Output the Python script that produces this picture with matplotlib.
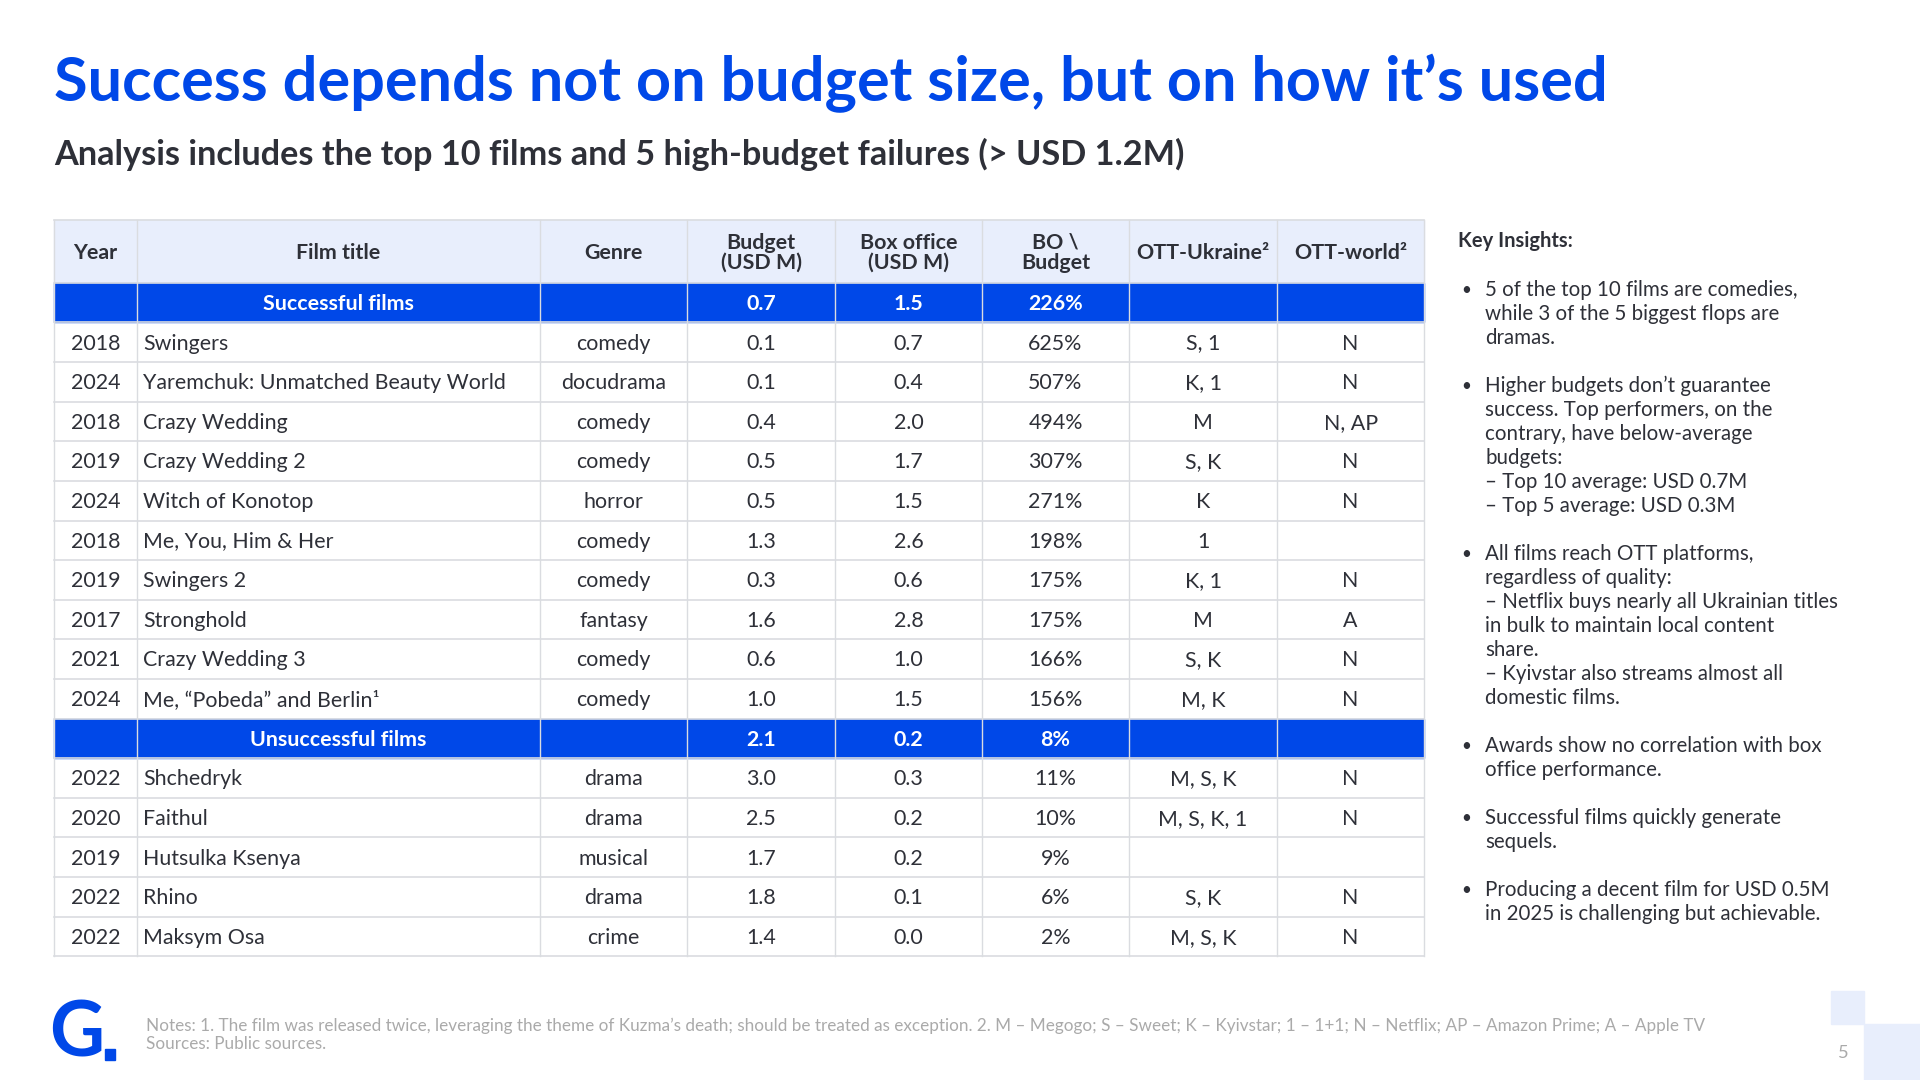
import matplotlib.pyplot as plt
from matplotlib.patches import Rectangle

BLUE = '#0048E8'
DARK = '#2E3038'
HEAD_BG = '#E8EEFC'
GRID = '#DADCE0'
FONT = ['Lato', 'DejaVu Sans']

columns = ['Year', 'Film title', 'Genre', 'Budget\n(USD M)', 'Box office\n(USD M)', 'BO \\\nBudget', 'OTT-Ukraine²', 'OTT-world²']

good_years = ['2018', '2024', '2018', '2019', '2024', '2018', '2019', '2017', '2021', '2024']
good_titles = ['Swingers', 'Yaremchuk: Unmatched Beauty World', 'Crazy Wedding', 'Crazy Wedding 2',
               'Witch of Konotop', 'Me, You, Him & Her', 'Swingers 2', 'Stronghold',
               'Crazy Wedding 3', 'Me, “Pobeda” and Berlin¹']
good_genres = ['comedy', 'docudrama', 'comedy', 'comedy', 'horror', 'comedy', 'comedy', 'fantasy', 'comedy', 'comedy']
good_budget = [0.1, 0.1, 0.4, 0.5, 0.5, 1.3, 0.3, 1.6, 0.6, 1.0]
good_box = [0.7, 0.4, 2.0, 1.7, 1.5, 2.6, 0.6, 2.8, 1.0, 1.5]
good_ratio = [625, 507, 494, 307, 271, 198, 175, 175, 166, 156]
good_ott_ua = ['S, 1', 'K, 1', 'M', 'S, K', 'K', '1', 'K, 1', 'M', 'S, K', 'M, K']
good_ott_world = ['N', 'N', 'N, AP', 'N', 'N', '', 'N', 'A', 'N', 'N']
good_summary = ['Successful films', 0.7, 1.5, 226]

bad_years = ['2022', '2020', '2019', '2022', '2022']
bad_titles = ['Shchedryk', 'Faithul', 'Hutsulka Ksenya', 'Rhino', 'Maksym Osa']
bad_genres = ['drama', 'drama', 'musical', 'drama', 'crime']
bad_budget = [3.0, 2.5, 1.7, 1.8, 1.4]
bad_box = [0.3, 0.2, 0.2, 0.1, 0.0]
bad_ratio = [11, 10, 9, 6, 2]
bad_ott_ua = ['M, S, K', 'M, S, K, 1', '', 'S, K', 'M, S, K']
bad_ott_world = ['N', 'N', '', 'N', 'N']
bad_summary = ['Unsuccessful films', 2.1, 0.2, 8]

insights = [
    ['5 of the top 10 films are comedies,', 'while 3 of the 5 biggest flops are', 'dramas.'],
    ['Higher budgets don’t guarantee', 'success. Top performers, on the', 'contrary, have below-average',
     'budgets:', '– Top 10 average: USD 0.7M', '– Top 5 average: USD 0.3M'],
    ['All films reach OTT platforms,', 'regardless of quality:', '– Netflix buys nearly all Ukrainian titles',
     'in bulk to maintain local content', 'share.', '– Kyivstar also streams almost all', 'domestic films.'],
    ['Awards show no correlation with box', 'office performance.'],
    ['Successful films quickly generate', 'sequels.'],
    ['Producing a decent film for USD 0.5M', 'in 2025 is challenging but achievable.'],
]

fig = plt.figure(figsize=(19.2, 10.8), dpi=100)
ax = fig.add_axes([0, 0, 1, 1])
ax.set_xlim(0, 1568)
ax.set_ylim(882, 0)
ax.axis('off')

S = 0.8816  # ref px -> pt

ax.text(44, 68, 'Success depends not on budget size, but on how it’s used', color=BLUE,
        fontsize=50 * S, fontweight='bold', family=FONT, va='center')
ax.text(44, 126, 'Analysis includes the top 10 films and 5 high-budget failures (> USD 1.2M)', color=DARK,
        fontsize=28 * S, fontweight='bold', family=FONT, va='center')

xs = [44, 112, 441, 561, 682, 802, 922, 1043, 1163]
top, head_h = 180, 51
row_h = (781 - 231) / 17
fs = 17.5 * S

# header
ax.add_patch(Rectangle((xs[0], top), xs[-1] - xs[0], head_h, color=HEAD_BG, zorder=0))
for i, c in enumerate(columns):
    ax.text((xs[i] + xs[i + 1]) / 2, top + head_h / 2 + 1, c, ha='center', va='center', color=DARK,
            fontsize=fs, fontweight='bold', family=FONT, linespacing=1.0)

rows = []
for blk in [(good_summary, good_years, good_titles, good_genres, good_budget, good_box, good_ratio, good_ott_ua, good_ott_world),
            (bad_summary, bad_years, bad_titles, bad_genres, bad_budget, bad_box, bad_ratio, bad_ott_ua, bad_ott_world)]:
    summ = blk[0]
    rows.append(('sum', ['', summ[0], '', f'{summ[1]:.1f}', f'{summ[2]:.1f}', f'{summ[3]}%', '', '']))
    for r in zip(*blk[1:]):
        y, t, g, b, bo, ra, u, w = r
        rows.append(('row', [y, t, g, f'{b:.1f}', f'{bo:.1f}', f'{ra}%', u, w]))

y0 = top + head_h
for k, (kind, vals) in enumerate(rows):
    yt = y0 + k * row_h
    yc = yt + row_h / 2 + 1
    if kind == 'sum':
        ax.add_patch(Rectangle((xs[0], yt), xs[-1] - xs[0], row_h, color=BLUE, zorder=0))
    for i, v in enumerate(vals):
        if kind == 'sum':
            ax.text((xs[i] + xs[i + 1]) / 2, yc, v, ha='center', va='center', color='white',
                    fontsize=fs, fontweight='bold', family=FONT)
        elif i == 1:
            ax.text(xs[1] + 5, yc, v, ha='left', va='center', color=DARK, fontsize=fs, family=FONT)
        else:
            ax.text((xs[i] + xs[i + 1]) / 2, yc, v, ha='center', va='center', color=DARK,
                    fontsize=fs, family=FONT)
    ax.plot([xs[0], xs[-1]], [yt + row_h, yt + row_h], color=GRID, lw=1.2, zorder=1)

bottom = y0 + len(rows) * row_h
for x in xs:
    ax.plot([x, x], [top, bottom], color=GRID, lw=1, zorder=1)
ax.plot([xs[0], xs[-1]], [top, top], color=GRID, lw=1.2)
ax.plot([xs[0], xs[-1]], [y0, y0], color=GRID, lw=1.2)

# insights
ax.text(1191, 197, 'Key Insights:', color=DARK, fontsize=16.5 * S, fontweight='bold', family=FONT, va='center')
yy = 237
lh = 19.6
for para in insights:
    ax.text(1193, yy, '•', color=DARK, fontsize=14 * S, family=FONT, va='center')
    for line in para:
        ax.text(1213, yy, line, color=DARK, fontsize=16.8 * S, family=FONT, va='center')
        yy += lh
    yy += lh

# footer
ax.text(40, 845, 'G', color=BLUE, fontsize=62 * S, fontweight='bold', family=FONT, va='center')
ax.add_patch(Rectangle((86, 857), 8, 9, color=BLUE))
ax.text(119, 838, 'Notes: 1. The film was released twice, leveraging the theme of Kuzma’s death; should be treated as exception. '
        '2. M – Megogo; S – Sweet; K – Kyivstar; 1 – 1+1; N – Netflix; AP – Amazon Prime; A – Apple TV',
        color='#AAAAAA', fontsize=14 * S, family=FONT, va='center')
ax.text(119, 853, 'Sources: Public sources.', color='#AAAAAA', fontsize=14 * S, family=FONT, va='center')
ax.add_patch(Rectangle((1495, 809), 27, 27, color=HEAD_BG))
ax.add_patch(Rectangle((1522, 836), 46, 46, color=HEAD_BG))
ax.text(1505, 860, '5', color='#AAAAAA', fontsize=15 * S, family=FONT, ha='center', va='center')

fig.savefig('out.png', dpi=100)
